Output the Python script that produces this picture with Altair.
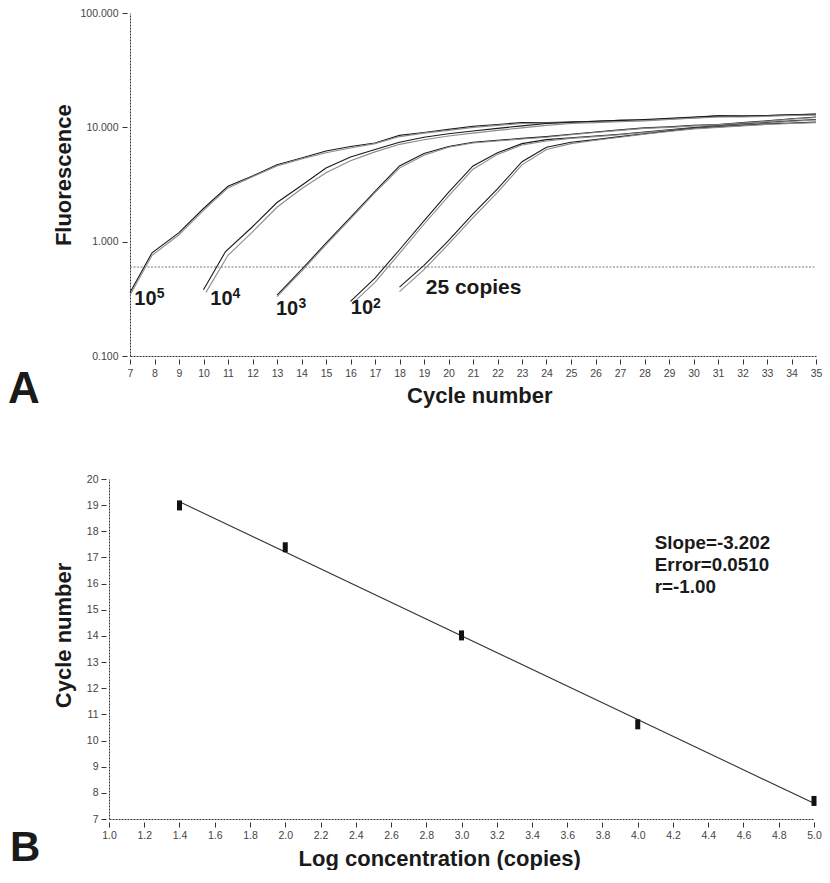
import altair as alt
import pandas as pd

# ---------------- Panel A : amplification curves ----------------
cyc_1e5 = [7, 7.9, 9, 10, 11, 12, 13, 14, 15, 16, 17, 18, 19, 20, 21, 22, 23, 24, 25, 26, 27, 28, 29, 30, 31, 32, 33, 34, 35]
f_1e5_a = [0.36, 0.80, 1.20, 1.95, 3.05, 3.75, 4.7, 5.4, 6.2, 6.8, 7.3, 8.5, 9.0, 9.6, 10.2, 10.6, 11.0, 11.0, 11.1, 11.3, 11.5, 11.6, 11.9, 12.2, 12.6, 12.6, 12.7, 12.9, 13.1]
f_1e5_b = [0.34, 0.76, 1.15, 1.88, 2.95, 3.70, 4.6, 5.3, 6.0, 6.6, 7.2, 8.3, 8.9, 9.4, 10.0, 10.4, 10.8, 10.9, 11.0, 11.2, 11.4, 11.5, 11.8, 12.1, 12.4, 12.5, 12.6, 12.8, 13.0]

cyc_1e4_a = [10, 10.9, 12, 13, 14, 15, 16, 17, 18, 19, 20, 21, 22, 23, 24, 25, 26, 27, 28, 29, 30, 31, 32, 33, 34, 35]
cyc_1e4_b = [10.1, 11.0, 12, 13, 14, 15, 16, 17, 18, 19, 20, 21, 22, 23, 24, 25, 26, 27, 28, 29, 30, 31, 32, 33, 34, 35]
f_1e4_a = [0.38, 0.82, 1.35, 2.2, 3.1, 4.4, 5.5, 6.4, 7.4, 8.2, 8.8, 9.3, 9.8, 10.3, 10.8, 11.1, 11.3, 11.5, 11.7, 12.0, 12.3, 12.6, 12.5, 12.7, 12.9, 13.0]
f_1e4_b = [0.36, 0.76, 1.22, 2.0, 2.9, 4.0, 5.1, 6.1, 7.1, 7.8, 8.4, 8.9, 9.4, 9.9, 10.4, 10.8, 11.0, 11.2, 11.4, 11.7, 12.0, 12.3, 12.3, 12.5, 12.7, 12.8]

cyc_1e3 = [13, 14, 15, 16, 17, 18, 19, 20, 21, 22, 23, 24, 25, 26, 27, 28, 29, 30, 31, 32, 33, 34, 35]
f_1e3_a = [0.34, 0.57, 0.97, 1.63, 2.75, 4.6, 5.9, 6.8, 7.4, 7.7, 8.0, 8.3, 8.7, 9.1, 9.5, 9.9, 10.1, 10.4, 10.6, 11.0, 11.4, 11.9, 12.3]
f_1e3_b = [0.33, 0.55, 0.94, 1.58, 2.68, 4.4, 5.7, 6.7, 7.3, 7.6, 7.9, 8.2, 8.6, 9.0, 9.4, 9.8, 10.0, 10.3, 10.5, 10.9, 11.3, 11.8, 12.2]

cyc_1e2_a = [16, 17, 18, 19, 20, 21, 22, 23, 24, 25, 26, 27, 28, 29, 30, 31, 32, 33, 34, 35]
cyc_1e2_b = [16.1, 17, 18, 19, 20, 21, 22, 23, 24, 25, 26, 27, 28, 29, 30, 31, 32, 33, 34, 35]
f_1e2_a = [0.30, 0.48, 0.85, 1.52, 2.7, 4.6, 6.0, 7.2, 7.8, 8.1, 8.4, 8.7, 9.1, 9.5, 9.95, 10.3, 10.7, 11.0, 11.4, 11.7]
f_1e2_b = [0.29, 0.44, 0.79, 1.42, 2.5, 4.3, 5.8, 7.0, 7.6, 8.0, 8.3, 8.6, 9.0, 9.4, 9.8, 10.2, 10.6, 10.9, 11.3, 11.6]

cyc_25 = [18, 19, 20, 21, 22, 23, 24, 25, 26, 27, 28, 29, 30, 31, 32, 33, 34, 35]
f_25_a = [0.40, 0.62, 1.02, 1.75, 2.9, 5.0, 6.7, 7.4, 7.8, 8.3, 8.8, 9.3, 9.8, 10.1, 10.4, 10.7, 10.9, 11.1]
f_25_b = [0.365, 0.57, 0.95, 1.62, 2.7, 4.7, 6.4, 7.2, 7.7, 8.2, 8.7, 9.2, 9.7, 10.0, 10.3, 10.6, 10.8, 11.0]

threshold = [0.6]
cycle_ticks = [7, 8, 9, 10, 11, 12, 13, 14, 15, 16, 17, 18, 19, 20, 21, 22, 23, 24, 25, 26, 27, 28, 29, 30, 31, 32, 33, 34, 35]
fluor_ticks = [0.1, 1, 10, 100]

# ---------------- Panel B : standard curve ----------------
log_conc = [1.4, 2.0, 3.0, 4.0, 5.0]
ct_values = [18.99, 17.39, 14.02, 10.62, 7.69]
fit_x = [1.4, 5.0]
fit_y = [19.13, 7.60]
logc_ticks = [1.0, 1.2, 1.4, 1.6, 1.8, 2.0, 2.2, 2.4, 2.6, 2.8, 3.0, 3.2, 3.4, 3.6, 3.8, 4.0, 4.2, 4.4, 4.6, 4.8, 5.0]
ct_ticks = [7, 8, 9, 10, 11, 12, 13, 14, 15, 16, 17, 18, 19, 20]
stats_text = ["Slope=-3.202", "Error=0.0510", "r=-1.00"]

FONT = "Liberation Sans"
INK = "#1a1a1a"

curves = [
    ("1e5", "a", cyc_1e5, f_1e5_a), ("1e5", "b", cyc_1e5, f_1e5_b),
    ("1e4", "a", cyc_1e4_a, f_1e4_a), ("1e4", "b", cyc_1e4_b, f_1e4_b),
    ("1e3", "a", cyc_1e3, f_1e3_a), ("1e3", "b", cyc_1e3, f_1e3_b),
    ("1e2", "a", cyc_1e2_a, f_1e2_a), ("1e2", "b", cyc_1e2_b, f_1e2_b),
    ("25", "a", cyc_25, f_25_a), ("25", "b", cyc_25, f_25_b),
]
rows = []
for grp, rep, cs, fs in curves:
    for i, (c, f) in enumerate(zip(cs, fs)):
        rows.append({"cycle": c, "fluor": f, "curve": grp + rep, "rep": rep, "order": i})
df_curves = pd.DataFrame(rows)

axis_common = dict(
    domainColor="#333333", domainDash=[2, 1], domainWidth=1,
    tickColor="#333333", tickSize=8, tickDash=[0, 3, 5, 100], tickWidth=1,
    labelFont=FONT, labelFontSize=10.5, labelColor="#444444",
    titleFont=FONT, titleFontSize=22, titleFontWeight="bold", titleColor=INK,
    grid=False, labelFlush=False, labelOverlap=False,
)

# plot geometry
WA, HA = 707, 343
WB, HB = 705, 340

xA = alt.X("cycle:Q",
           scale=alt.Scale(domain=[7, 35], range=[21, WA], nice=False, zero=False),
           axis=alt.Axis(values=cycle_ticks, format="d", title="Cycle number",
                         labelPadding=4, titleX=370.3, titleY=46.7,
                         titleAlign="center", titleBaseline="alphabetic", **axis_common))
yA = alt.Y("fluor:Q",
           scale=alt.Scale(type="log", domain=[0.1, 100], nice=False),
           axis=alt.Axis(values=fluor_ticks, format=".3f", title="Fluorescence",
                         offset=-21, labelPadding=4, titleX=-60, titleY=161.7,
                         titleAngle=270, titleAlign="center", titleBaseline="alphabetic",
                         **axis_common))

lines_A = alt.Chart(df_curves).mark_line(strokeWidth=1.1).encode(
    x=xA, y=yA, detail="curve:N", order="order:Q",
    color=alt.Color("rep:N", scale=alt.Scale(domain=["a", "b"], range=["#1a1a1a", "#8c8c8c"]), legend=None),
)

df_thr = pd.DataFrame({"cycle": [cycle_ticks[0]], "cycle2": [cycle_ticks[-1]], "fluor": threshold})
thr_A = alt.Chart(df_thr).mark_rule(color="#777777", strokeDash=[2, 1.5], strokeWidth=1).encode(
    x=xA, x2="cycle2:Q", y=yA)


def txt(s, px, py, size, weight="bold", color=INK, align="left"):
    return alt.Chart(pd.DataFrame({"t": [s]})).mark_text(
        align=align, baseline="alphabetic", font=FONT, fontSize=size,
        fontWeight=weight, color=color,
    ).encode(text="t:N", x=alt.value(px), y=alt.value(py))


labels_A = [
    txt("10", 25.3, 292.3, 20), txt("5", 47.8, 285.1, 14),
    txt("10", 101.3, 292.3, 20), txt("4", 123.4, 285.1, 14),
    txt("10", 167.0, 301.7, 20), txt("3", 189.5, 295.0, 14),
    txt("10", 241.8, 301.0, 20), txt("2", 263.9, 294.5, 14),
    txt("25 copies", 316.7, 281.0, 21),
    txt("A", -101, HA + 46.7, 44),
]

panel_A = alt.layer(thr_A, lines_A, *labels_A).properties(width=WA, height=HA)

# ---------------- Panel B ----------------
xB = alt.X("logc:Q",
           scale=alt.Scale(domain=[1.0, 5.0], nice=False, zero=False),
           axis=alt.Axis(values=logc_ticks, format=".1f", title="Log concentration (copies)",
                         labelPadding=3, titleX=330.2, titleY=46.3,
                         titleAlign="center", titleBaseline="alphabetic", **axis_common))
yB = alt.Y("ct:Q",
           scale=alt.Scale(domain=[7, 20], nice=False, zero=False),
           axis=alt.Axis(values=ct_ticks, format="d", title="Cycle number",
                         labelPadding=3, titleX=-39, titleY=155.9,
                         titleAngle=270, titleAlign="center", titleBaseline="alphabetic",
                         **axis_common))

df_fit = pd.DataFrame({"logc": fit_x, "ct": fit_y})
df_pts = pd.DataFrame({"logc": log_conc, "ct": ct_values})

fit_B = alt.Chart(df_fit).mark_line(color="#333333", strokeWidth=1.1).encode(x=xB, y=yB)
pts_B = alt.Chart(df_pts).mark_tick(orient="vertical", size=10, thickness=5, color="#111111", opacity=1).encode(x=xB, y=yB)

labels_B = [
    txt(stats_text[0], 545.8, 70.2, 18.8),
    txt(stats_text[1], 545.8, 91.8, 18.8),
    txt(stats_text[2], 545.8, 114.3, 18.8),
    txt("B", -99, HB + 42, 42),
]

panel_B = alt.layer(fit_B, pts_B, *labels_B).properties(width=WB, height=HB)

chart = alt.vconcat(panel_A, panel_B, spacing=62).properties(
    padding={"left": 0, "top": 0, "right": 0, "bottom": 0}
).configure_view(stroke=None)

chart.save("out.html", embed_options={"renderer": "svg", "actions": False})
